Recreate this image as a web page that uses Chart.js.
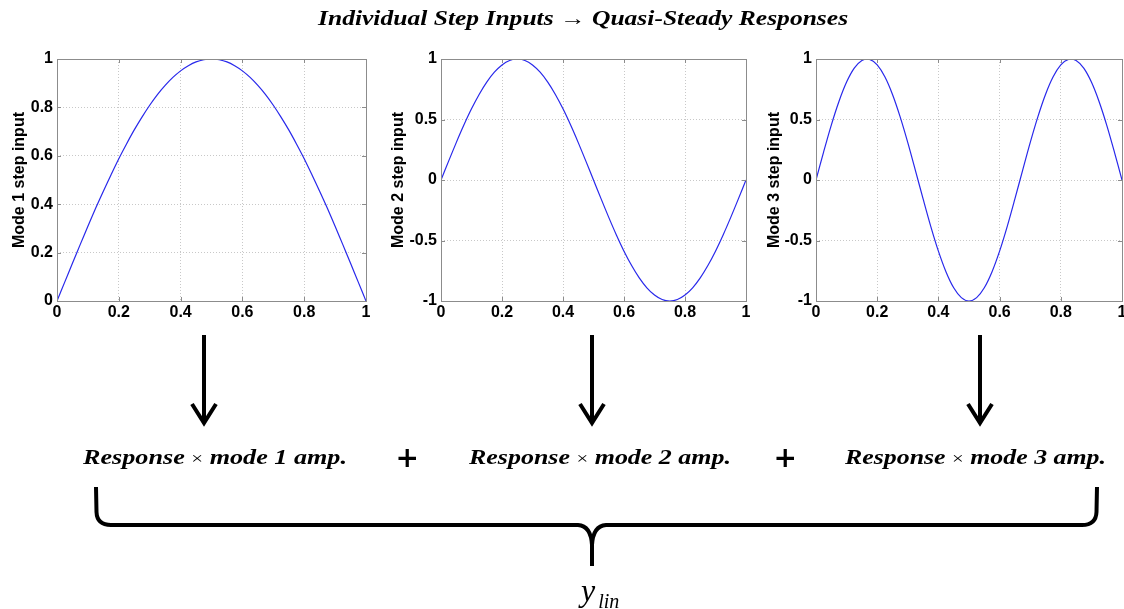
<!DOCTYPE html>
<html><head><meta charset="utf-8">
<script src="https://cdn.jsdelivr.net/npm/chart.js@4.4.1/dist/chart.umd.min.js"></script>
<style>
html,body{margin:0;padding:0;background:#fff;width:1124px;height:609px;overflow:hidden;position:relative}
.cv{position:absolute}
.t{position:absolute;white-space:nowrap;font-family:"Liberation Serif","DejaVu Serif",serif;font-style:italic;font-weight:bold;color:#000;transform-origin:0 0}
.x{font-style:normal;font-weight:normal;font-size:0.8em}
svg{position:absolute;left:0;top:0}
</style></head><body>
<div class="cv" style="left:0;top:40px"><canvas id="c1" width="380" height="290"></canvas></div>
<div class="cv" style="left:380px;top:40px"><canvas id="c2" width="380" height="290"></canvas></div>
<div class="cv" style="left:760px;top:40px"><canvas id="c3" width="380" height="290"></canvas></div>

<svg width="1124" height="609">
  <g stroke="#000" stroke-width="4" fill="none">
    <line x1="204" y1="335" x2="204" y2="422"/>
    <polyline points="192,404 204,423 216,404"/>
    <line x1="592" y1="335" x2="592" y2="422"/>
    <polyline points="580,404 592,423 604,404"/>
    <line x1="980" y1="335" x2="980" y2="422"/>
    <polyline points="968,404 980,423 992,404"/>
    <path d="M96,487 L96.5,512 Q97,525 111,525 L578,525 Q591,526 592,545 L592,566 M592,545 Q593,526 606,525 L1082,525 Q1096,525 1096.5,512 L1097,487"/>
  </g>
</svg>

<div class="t" id="title" data-cx="583" data-cy="18" data-w="530" style="font-size:20px">Individual Step Inputs &#8594; Quasi-Steady Responses</div>
<div class="t" data-cx="215" data-cy="457" data-w="264" style="font-size:22px">Response <span class="x">&#215;</span> mode 1 amp.</div>
<div class="t" data-cx="600" data-cy="457" data-w="262" style="font-size:22px">Response <span class="x">&#215;</span> mode 2 amp.</div>
<div class="t" data-cx="975" data-cy="457" data-w="261" style="font-size:22px">Response <span class="x">&#215;</span> mode 3 amp.</div>
<div class="t" data-cx="407" data-cy="457" style="font-family:'DejaVu Sans';font-style:normal;font-size:28px">+</div>
<div class="t" data-cx="785" data-cy="457" style="font-family:'DejaVu Sans';font-style:normal;font-size:28px">+</div>
<div class="t" data-cx="600" data-cy="590" style="font-weight:normal;font-size:32px">y<span style="font-size:20px;position:relative;top:7px;margin-left:3px">lin</span></div>

<script>
// ---- data ----
const xValues = [0,0.025,0.05,0.075,0.1,0.125,0.15,0.175,0.2,0.225,0.25,0.275,0.3,0.325,0.35,0.375,0.4,0.425,0.45,0.475,0.5,
  0.525,0.55,0.575,0.6,0.625,0.65,0.675,0.7,0.725,0.75,0.775,0.8,0.825,0.85,0.875,0.9,0.925,0.95,0.975,1];
const mode1Values = [0,0.078,0.156,0.233,0.309,0.383,0.454,0.522,0.588,0.649,0.707,0.760,0.809,0.853,0.891,0.924,0.951,0.972,0.988,0.997,1.0,
  0.997,0.988,0.972,0.951,0.924,0.891,0.853,0.809,0.760,0.707,0.649,0.588,0.522,0.454,0.383,0.309,0.233,0.156,0.078,0];
const mode2Values = [0,0.156,0.309,0.454,0.588,0.707,0.809,0.891,0.951,0.988,1.0,0.988,0.951,0.891,0.809,0.707,0.588,0.454,0.309,0.156,0,
  -0.156,-0.309,-0.454,-0.588,-0.707,-0.809,-0.891,-0.951,-0.988,-1.0,-0.988,-0.951,-0.891,-0.809,-0.707,-0.588,-0.454,-0.309,-0.156,0];
const mode3Values = [0,0.233,0.454,0.649,0.809,0.924,0.988,0.997,0.951,0.853,0.707,0.522,0.309,0.078,-0.156,-0.383,-0.588,-0.760,-0.891,-0.972,-1.0,
  -0.972,-0.891,-0.760,-0.588,-0.383,-0.156,0.078,0.309,0.522,0.707,0.853,0.951,0.997,0.988,0.924,0.809,0.649,0.454,0.233,0];
const xTickValues = [0,0.2,0.4,0.6,0.8,1];
const xTickLabels = ['0','0.2','0.4','0.6','0.8','1'];
const yTicksMode1 = [0,0.2,0.4,0.6,0.8,1];
const yLabelsMode1 = ['0','0.2','0.4','0.6','0.8','1'];
const yTicksMode23 = [-1,-0.5,0,0.5,1];
const yLabelsMode23 = ['-1','-0.5','0','0.5','1'];
const axisTitles = ['Mode 1 step input','Mode 2 step input','Mode 3 step input'];

const FRAME = '#8c8c8c';
const tickFont = {family:'"Liberation Sans", Arial, sans-serif', size:16, weight:'bold'};
const titleFont = {family:'"Liberation Sans", Arial, sans-serif', size:16, weight:'bold'};

const framePlugin = {
  id:'frame',
  afterDatasetsDraw(chart){
    const ctx = chart.ctx, a = chart.chartArea;
    const xs = chart.scales.x, ys = chart.scales.y;
    ctx.save();
    ctx.strokeStyle = FRAME; ctx.lineWidth = 1;
    ctx.strokeRect(Math.round(a.left)+0.5, Math.round(a.top)+0.5, Math.round(a.right-a.left), Math.round(a.bottom-a.top));
    ctx.beginPath();
    const L = 4;
    xs.ticks.forEach(t => {
      const px = Math.round(xs.getPixelForValue(t.value))+0.5;
      ctx.moveTo(px, a.bottom); ctx.lineTo(px, a.bottom-L);
      ctx.moveTo(px, a.top); ctx.lineTo(px, a.top+L);
    });
    ys.ticks.forEach(t => {
      const py = Math.round(ys.getPixelForValue(t.value))+0.5;
      ctx.moveTo(a.left, py); ctx.lineTo(a.left+L, py);
      ctx.moveTo(a.right, py); ctx.lineTo(a.right-L, py);
    });
    ctx.stroke();
    ctx.restore();
  }
};

function makeChart(id, values, yTicks, yLabels, title, yAxisWidth, padRight, titlePad){
  const pts = xValues.map((x,i)=>({x:x, y:values[i]}));
  return new Chart(document.getElementById(id), {
    type:'scatter',
    data:{datasets:[{data:pts, showLine:true, borderColor:'rgb(40,40,235)', borderWidth:1.2, pointRadius:0, tension:0.3, fill:false}]},
    options:{
      responsive:false, animation:false,
      plugins:{legend:{display:false}, tooltip:{enabled:false}},
      layout:{padding:{top:19, right:padRight, bottom:0, left:0}},
      scales:{
        x:{type:'linear', min:0, max:1,
           afterBuildTicks(s){ s.ticks = xTickValues.map(v=>({value:v})); },
           afterFit(s){ s.height = 29; },
           ticks:{font:tickFont, color:'#000', padding:2, maxRotation:0, autoSkip:false,
                  callback:(v)=>{const i = xTickValues.indexOf(v); return i>=0 ? xTickLabels[i] : '';}},
           grid:{color:'#c8c8c8', drawTicks:false, lineWidth:1},
           border:{display:false, dash:[1,2]}},
        y:{type:'linear', min:yTicks[0], max:yTicks[yTicks.length-1],
           afterBuildTicks(s){ s.ticks = yTicks.map(v=>({value:v})); },
           afterFit(s){ s.width = yAxisWidth; },
           ticks:{font:tickFont, color:'#000', padding:4, autoSkip:false,
                  callback:(v)=>{const i = yTicks.indexOf(v); return i>=0 ? yLabels[i] : '';}},
           grid:{color:'#c8c8c8', drawTicks:false, lineWidth:1},
           border:{display:false, dash:[1,2]},
           title:{display:true, text:title, color:'#000', font:titleFont, padding:{top:titlePad, bottom:0}}}
      }
    },
    plugins:[framePlugin]
  });
}

makeChart('c1', mode1Values, yTicksMode1, yLabelsMode1, axisTitles[0], 57, 14, 10);
makeChart('c2', mode2Values, yTicksMode23, yLabelsMode23, axisTitles[1], 61, 14, 9);
makeChart('c3', mode3Values, yTicksMode23, yLabelsMode23, axisTitles[2], 56, 18, 5);

// place overlay texts
document.querySelectorAll('.t').forEach(el=>{
  const w = el.offsetWidth, h = el.offsetHeight;
  const target = el.dataset.w ? parseFloat(el.dataset.w) : w;
  const sx = target / w;
  const cx = parseFloat(el.dataset.cx), cy = parseFloat(el.dataset.cy);
  el.style.left = (cx - target/2) + 'px';
  el.style.top = (cy - h/2) + 'px';
  el.style.transform = 'scaleX(' + sx + ')';
});
</script>
</body></html>
